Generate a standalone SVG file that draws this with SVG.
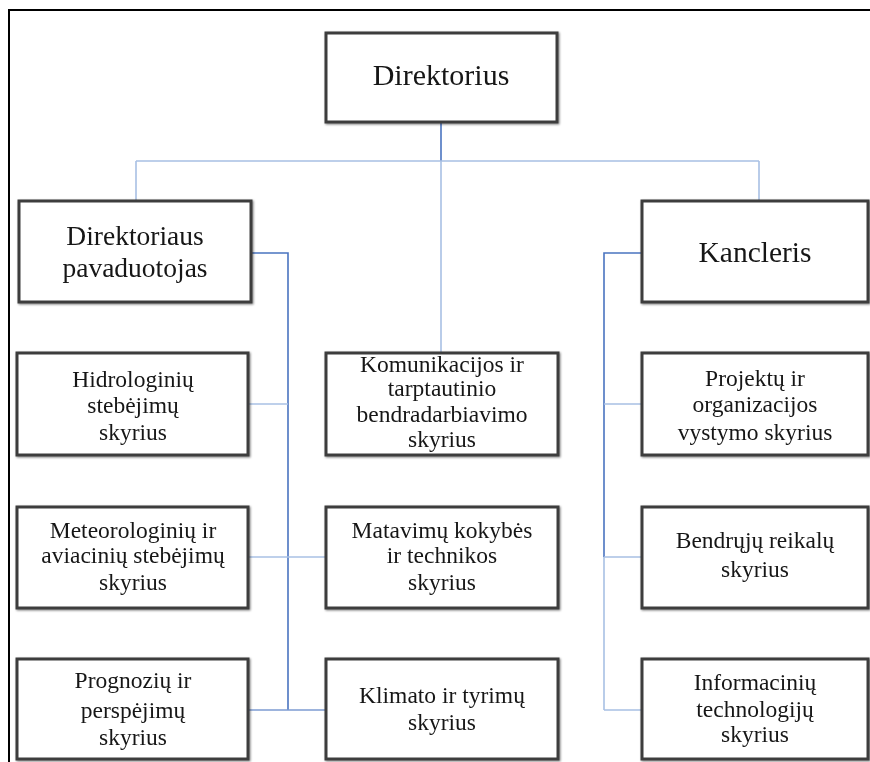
<svg xmlns="http://www.w3.org/2000/svg" width="870" height="762" viewBox="0 0 870 762">
<defs>
<filter id="sh" x="-5%" y="-5%" width="110%" height="110%">
<feGaussianBlur in="SourceAlpha" stdDeviation="0.8" result="b"/>
<feOffset dx="0.5" dy="0.5" result="o"/>
<feComponentTransfer in="o" result="s"><feFuncA type="linear" slope="0.5"/></feComponentTransfer>
<feMerge><feMergeNode in="s"/><feMergeNode in="SourceGraphic"/></feMerge>
</filter>
</defs>
<style>
.box{fill:#ffffff;stroke:#3d3d3d;stroke-width:3}
.t{font-family:"Liberation Serif","Times New Roman",serif;fill:#161616;text-anchor:middle;font-size:23.5px}
.big{font-size:27.5px}
.dk{stroke:#4a74c0;stroke-width:1.6;fill:none}
.lt{stroke:#a8c0e4;stroke-width:1.6;fill:none}
.md{stroke:#7d9bd2;stroke-width:1.6;fill:none}
.frame{stroke:#000;stroke-width:2;fill:none}
</style>
<rect width="870" height="762" fill="#ffffff"/>
<path class="frame" d="M9,762 V10 H870"/>
<g id="connectors">
<path class="dk" d="M441,122 V161"/>
<path class="lt" d="M136,161 H759 M136,161 V201 M441,161 V353 M759,161 V201"/>
<path class="dk" d="M251,253 H288 V710"/>
<path class="lt" d="M248,404 H288"/>
<path class="lt" d="M248,557 H326"/>
<path class="md" d="M248,710 H326"/>
<path class="dk" d="M642,253 H604 V557"/>
<path class="lt" d="M604,557 V710"/>
<path class="lt" d="M604,404 H642 M604,557 H642 M604,710 H642"/>
</g>
<g id="direktorius" filter="url(#sh)">
<rect class="box" x="326" y="33" width="231" height="89"/>
<text class="t big" x="441" y="85" style="font-size:30px">Direktorius</text>
</g>
<g id="pavaduotojas" filter="url(#sh)">
<rect class="box" x="19" y="201" width="232" height="101"/>
<text class="t big" x="135" y="245">Direktoriaus</text>
<text class="t big" x="135" y="277">pavaduotojas</text>
</g>
<g id="kancleris" filter="url(#sh)">
<rect class="box" x="642" y="201" width="226" height="101"/>
<text class="t big" x="755" y="262" style="font-size:29.5px">Kancleris</text>
</g>
<g id="hidrologiniu" filter="url(#sh)">
<rect class="box" x="17" y="353" width="231" height="102"/>
<text class="t" x="133" y="387">Hidrologinių</text>
<text class="t" x="133" y="413">stebėjimų</text>
<text class="t" x="133" y="440">skyrius</text>
</g>
<g id="meteorologiniu" filter="url(#sh)">
<rect class="box" x="17" y="507" width="231" height="101"/>
<text class="t" x="133" y="538">Meteorologinių ir</text>
<text class="t" x="133" y="563">aviacinių stebėjimų</text>
<text class="t" x="133" y="590">skyrius</text>
</g>
<g id="prognoziu" filter="url(#sh)">
<rect class="box" x="17" y="659" width="231" height="100"/>
<text class="t" x="133" y="688">Prognozių ir</text>
<text class="t" x="133" y="718">perspėjimų</text>
<text class="t" x="133" y="745">skyrius</text>
</g>
<g id="komunikacijos" filter="url(#sh)">
<rect class="box" x="326" y="353" width="232" height="102"/>
<text class="t" x="442" y="372">Komunikacijos ir</text>
<text class="t" x="442" y="396">tarptautinio</text>
<text class="t" x="442" y="422">bendradarbiavimo</text>
<text class="t" x="442" y="447">skyrius</text>
</g>
<g id="matavimu" filter="url(#sh)">
<rect class="box" x="326" y="507" width="232" height="101"/>
<text class="t" x="442" y="538">Matavimų kokybės</text>
<text class="t" x="442" y="563">ir technikos</text>
<text class="t" x="442" y="590">skyrius</text>
</g>
<g id="klimato" filter="url(#sh)">
<rect class="box" x="326" y="659" width="232" height="100"/>
<text class="t" x="442" y="703">Klimato ir tyrimų</text>
<text class="t" x="442" y="730">skyrius</text>
</g>
<g id="projektu" filter="url(#sh)">
<rect class="box" x="642" y="353" width="226" height="102"/>
<text class="t" x="755" y="386">Projektų ir</text>
<text class="t" x="755" y="412">organizacijos</text>
<text class="t" x="755" y="440">vystymo skyrius</text>
</g>
<g id="bendruju" filter="url(#sh)">
<rect class="box" x="642" y="507" width="226" height="101"/>
<text class="t" x="755" y="548">Bendrųjų reikalų</text>
<text class="t" x="755" y="577">skyrius</text>
</g>
<g id="informaciniu" filter="url(#sh)">
<rect class="box" x="642" y="659" width="226" height="100"/>
<text class="t" x="755" y="690">Informacinių</text>
<text class="t" x="755" y="717">technologijų</text>
<text class="t" x="755" y="742">skyrius</text>
</g>
</svg>
